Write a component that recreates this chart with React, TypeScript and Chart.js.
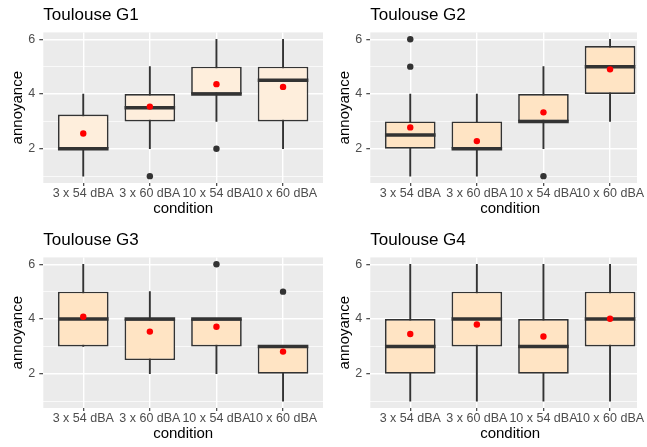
import React, { useEffect, useRef } from 'react';
import { Chart, registerables } from 'chart.js';

Chart.register(...registerables);

// ---------- data ----------
const categories = ['3 x 54 dBA', '3 x 60 dBA', '10 x 54 dBA', '10 x 60 dBA'];
const yTickValues = [1, 2, 3, 4, 5, 6];
const yLabelValues = [2, 4, 6];

const g1Lower = [1, 2, 3, 2];
const g1Q1 = [2, 3, 4, 3];
const g1Median = [2, 3.5, 4, 4.5];
const g1Q3 = [3.25, 4, 5, 5];
const g1Upper = [4, 5, 6, 6];
const g1Mean = [2.56, 3.54, 4.36, 4.26];
const g1Outliers = [[], [1], [2], []];

const g2Lower = [1, 1, 2, 3];
const g2Q1 = [2, 2, 3, 4];
const g2Median = [2.5, 2, 3, 5];
const g2Q3 = [3, 3, 4, 5.75];
const g2Upper = [4, 4, 5, 6];
const g2Mean = [2.78, 2.28, 3.33, 4.9];
const g2Outliers = [[5, 6], [], [1], []];

const g3Lower = [3, 2, 2, 1];
const g3Q1 = [3, 2.5, 3, 2];
const g3Median = [4, 4, 4, 3];
const g3Q3 = [5, 4, 4, 3];
const g3Upper = [6, 5, 4, 3];
const g3Mean = [4.08, 3.54, 3.72, 2.81];
const g3Outliers = [[], [], [6], [5]];

const g4Lower = [1, 1, 1, 1];
const g4Q1 = [2, 3, 2, 3];
const g4Median = [3, 4, 3, 4];
const g4Q3 = [4, 5, 4, 5];
const g4Upper = [6, 6, 6, 6];
const g4Mean = [3.45, 3.8, 3.36, 4.01];
const g4Outliers = [[], [], [], []];

const panels = [
  { title: 'Toulouse G1', lower: g1Lower, q1: g1Q1, median: g1Median, q3: g1Q3, upper: g1Upper, mean: g1Mean, outliers: g1Outliers, fill: '#FEEEDC' },
  { title: 'Toulouse G2', lower: g2Lower, q1: g2Q1, median: g2Median, q3: g2Q3, upper: g2Upper, mean: g2Mean, outliers: g2Outliers, fill: '#FFE4C4' },
  { title: 'Toulouse G3', lower: g3Lower, q1: g3Q1, median: g3Median, q3: g3Q3, upper: g3Upper, mean: g3Mean, outliers: g3Outliers, fill: '#FFE4C4' },
  { title: 'Toulouse G4', lower: g4Lower, q1: g4Q1, median: g4Median, q3: g4Q3, upper: g4Upper, mean: g4Mean, outliers: g4Outliers, fill: '#FFE4C4' },
];

// ---------- layout / style ----------
const FONT = "'Liberation Sans', Arial, Helvetica, sans-serif";
const PANEL_W = 327;
const PANEL_H = 225;
const DARK = '#333333';

type PanelData = (typeof panels)[number];

function BoxPanel({ p, left, top }: { p: PanelData; left: number; top: number }) {
  const ref = useRef<HTMLCanvasElement | null>(null);

  useEffect(() => {
    const canvas = ref.current;
    if (!canvas) return;
    const boxIndex = 2;

    const bgPlugin = {
      id: 'panelBg',
      beforeDraw(chart: any) {
        const { ctx, chartArea: a } = chart;
        ctx.save();
        ctx.fillStyle = '#EBEBEB';
        ctx.fillRect(a.left, a.top, a.right - a.left, a.bottom - a.top);
        ctx.restore();
      },
    };

    const medianPlugin = {
      id: 'medianLines',
      afterDatasetDraw(chart: any, args: any) {
        if (args.index !== boxIndex) return;
        const meta = chart.getDatasetMeta(boxIndex);
        const yScale = chart.scales.y;
        const c = chart.ctx;
        c.save();
        c.strokeStyle = DARK;
        c.lineWidth = 3.5;
        c.lineCap = 'butt';
        meta.data.forEach((bar: any, i: number) => {
          const { x, width } = bar.getProps(['x', 'width'], true);
          const py = yScale.getPixelForValue(p.median[i]);
          c.beginPath();
          c.moveTo(x - width / 2, py);
          c.lineTo(x + width / 2, py);
          c.stroke();
        });
        c.restore();
      },
    };

    const outlierPoints = p.outliers.flatMap((vals, i) => vals.map((v) => ({ x: i + 1, y: v })));

    const chart = new Chart(canvas, {
      type: 'bar',
      data: {
        datasets: [
          {
            type: 'scatter',
            data: categories.map((_, i) => ({ x: i + 1, y: p.mean[i] })),
            backgroundColor: '#FF0000',
            borderWidth: 0,
            pointRadius: 3.2,
            order: 0,
          } as any,
          {
            type: 'scatter',
            data: outlierPoints,
            backgroundColor: DARK,
            borderWidth: 0,
            pointRadius: 3.2,
            order: 1,
          } as any,
          {
            type: 'bar',
            data: categories.map((_, i) => ({ x: i + 1, y: [p.q1[i], p.q3[i]] })),
            backgroundColor: p.fill,
            borderColor: DARK,
            borderWidth: 1.7,
            borderSkipped: false,
            grouped: false,
            categoryPercentage: 1,
            barPercentage: 0.76,
            order: 2,
          } as any,
          {
            type: 'bar',
            data: categories.map((_, i) => ({ x: i + 1, y: [p.lower[i], p.upper[i]] })),
            backgroundColor: DARK,
            borderWidth: 0,
            grouped: false,
            barThickness: 1.25,
            order: 3,
          } as any,
        ],
      },
      options: {
        animation: false,
        responsive: false,
        events: [],
        layout: { padding: { left: 0, right: 3.7, top: 0, bottom: 7.2 } },
        plugins: {
          legend: { display: false },
          tooltip: { enabled: false },
          title: {
            display: true,
            text: p.title,
            align: 'start',
            fullSize: false,
            color: '#000000',
            font: { family: FONT, size: 17, weight: 'normal' },
            padding: { top: 5, bottom: 7 },
          },
        },
        scales: {
          x: {
            type: 'linear',
            min: 0.4,
            max: 4.6,
            offset: false,
            afterBuildTicks: (s: any) => {
              s.ticks = categories.map((_, i) => ({ value: i + 1 }));
            },
            afterFit: (s: any) => {
              s.height = 34.8;
            },
            ticks: {
              autoSkip: false,
              maxRotation: 0,
              minRotation: 0,
              padding: 0,
              color: '#4D4D4D',
              font: { family: FONT, size: 12.5 },
              callback: (v: any) => categories[Math.round(Number(v)) - 1] ?? '',
            },
            grid: {
              color: '#FFFFFF',
              lineWidth: 1.4,
              drawTicks: true,
              tickLength: 3,
              tickColor: DARK,
              tickWidth: 1.1,
              offset: false,
            },
            border: { display: false },
            title: {
              display: true,
              text: 'condition',
              color: '#000000',
              font: { family: FONT, size: 15 },
              padding: { top: 0, bottom: 0 },
            },
          },
          y: {
            type: 'linear',
            min: 0.75,
            max: 6.25,
            afterBuildTicks: (s: any) => {
              s.ticks = yTickValues.map((v) => ({ value: v }));
            },
            afterFit: (s: any) => {
              s.width = 43.3;
            },
            ticks: {
              padding: 4,
              color: '#4D4D4D',
              font: { family: FONT, size: 12.5 },
              callback: (v: any) => (yLabelValues.includes(Number(v)) ? String(v) : ''),
            },
            grid: {
              color: '#FFFFFF',
              lineWidth: (ctx: any) => (yLabelValues.includes(ctx.tick?.value) ? 1.4 : 0.7),
              drawTicks: true,
              tickLength: 4,
              tickColor: (ctx: any) => (yLabelValues.includes(ctx.tick?.value) ? DARK : 'rgba(0,0,0,0)'),
              tickWidth: 1.1,
            },
            border: { display: false },
            title: {
              display: true,
              text: 'annoyance',
              color: '#000000',
              font: { family: FONT, size: 15 },
              padding: { top: 9, bottom: 0 },
            },
          },
        },
      } as any,
      plugins: [bgPlugin, medianPlugin],
    });

    return () => chart.destroy();
  }, [p]);

  return (
    <canvas
      ref={ref}
      width={PANEL_W}
      height={PANEL_H}
      style={{ position: 'absolute', left, top, width: PANEL_W, height: PANEL_H, display: 'block' }}
    />
  );
}

export default function App() {
  return (
    <div
      style={{
        position: 'fixed',
        left: 0,
        top: 0,
        width: 647,
        height: 447,
        overflow: 'hidden',
        background: '#FFFFFF',
      }}
    >
      <BoxPanel p={panels[0]} left={0} top={0} />
      <BoxPanel p={panels[1]} left={PANEL_W} top={0} />
      <BoxPanel p={panels[2]} left={0} top={PANEL_H} />
      <BoxPanel p={panels[3]} left={PANEL_W} top={PANEL_H} />
      {/* the reference image crops the right-hand panels at x = 637 */}
      <div style={{ position: 'absolute', left: 637, top: 30, width: 20, height: 155, background: '#FFFFFF' }} />
      <div style={{ position: 'absolute', left: 637, top: 255, width: 20, height: 155, background: '#FFFFFF' }} />
    </div>
  );
}
